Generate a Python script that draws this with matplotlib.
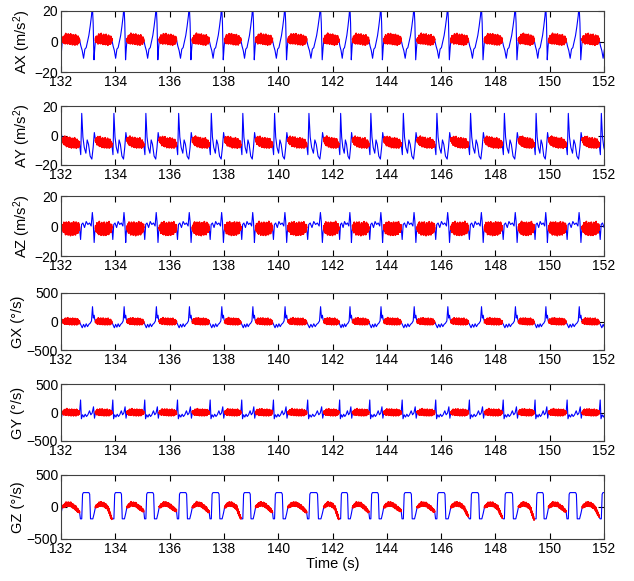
import numpy as np
import matplotlib.pyplot as plt

plt.rcParams['font.family'] = ['Liberation Sans', 'DejaVu Sans']
plt.rcParams['mathtext.default'] = 'regular'

# stride onsets (start of each red stance segment)
onsets = [130.85, 132.05, 133.27, 134.43, 135.62, 136.84, 138.03, 139.17, 140.36,
          141.68, 142.74, 143.89, 145.12, 146.36, 147.6, 148.85, 149.96, 151.2, 152.4]
stance_frac = 0.52

# jitter pattern of the red stance segments (normalised)
noise = [0.8, -0.4, 0.2, -0.95, 0.35, -0.15, 1.0, -0.45, 0.1, -0.6, 0.7, -0.3,
         0.35, -0.75, 0.5, -0.55, 0.25, -0.05, 0.6, -1.0, 0.45, -0.25, 0.15, -0.65,
         0.9, -0.2, 0.05, -0.8, 0.3, -0.5, 0.65, -0.1, 0.2, -0.9, 0.4, -0.35]
# envelope of the jitter along a stance segment
env_phase = [0.0, 0.08, 0.2, 0.8, 0.92, 1.0]
env_vals = [0.35, 0.8, 1.0, 1.0, 0.8, 0.4]

# swing (blue) key points: phase within a stride and value
ax_phase = [0.52, 0.56, 0.60, 0.64, 0.68, 0.72, 0.76, 0.80, 0.84, 0.88, 0.905, 0.93, 0.955, 0.98, 1.0]
ax_vals = [1, -3, -6, -11, -5, -4, 0, 4, 10, 17, 24, 12, -12, -4, 1]
ay_phase = [0.52, 0.555, 0.585, 0.62, 0.66, 0.71, 0.75, 0.79, 0.84, 0.89, 0.93, 0.965, 1.0]
ay_vals = [-6, -13, 15, -1, -8, -12, -3, -6, -14, -16, -8, 2, -3]
az_phase = [0.52, 0.55, 0.58, 0.62, 0.67, 0.72, 0.77, 0.82, 0.87, 0.905, 0.93, 0.96, 0.98, 1.0]
az_vals = [-1, -9, 1, 2, -1, 3, 1, 2, 0, 9, 3, -11, -4, -1]
gx_phase = [0.52, 0.56, 0.60, 0.64, 0.68, 0.72, 0.76, 0.80, 0.84, 0.88, 0.91, 0.935, 0.96, 0.98, 1.0]
gx_vals = [-10, -60, -110, -50, -100, -40, -90, -50, -30, 10, 260, 60, 110, 30, 0]
gy_phase = [0.52, 0.55, 0.575, 0.61, 0.65, 0.69, 0.73, 0.77, 0.82, 0.86, 0.90, 0.94, 0.97, 1.0]
gy_vals = [0, 220, -110, -40, -80, -30, -70, -40, 30, -40, -10, 100, -100, 0]
gz_phase = [0.52, 0.545, 0.585, 0.61, 0.635, 0.80, 0.825, 0.85, 0.92, 0.96, 1.0]
gz_vals = [-80, -185, -185, 200, 225, 225, 200, -185, -185, -100, 0]

# stance (red) base shape, phase within stance
red_phase = [0.0, 0.25, 0.5, 0.75, 1.0]
ax_red = [1, 2, 1.5, 1, 1]
ay_red = [-3, -4, -5, -5, -6]
az_red = [-1, -1.5, -2, -1.5, -1]
gx_red = [0, 10, 0, 0, -10]
gy_red = [0, 10, 0, 0, 0]
gz_red = [0, 50, 40, -10, -80]
# how far GZ falls at the end of each stance
gz_depth = [-80, -80, -190, -60, -60, -80, -180, -80, -80, -190, -80, -60, -70,
            -150, -160, -200, -70, -150]

channels = [
    ('AX (m/s$^{2}$)', ax_phase, ax_vals, ax_red, 3.5, 20, None),
    ('AY (m/s$^{2}$)', ay_phase, ay_vals, ay_red, 3.5, 20, None),
    ('AZ (m/s$^{2}$)', az_phase, az_vals, az_red, 4.5, 20, None),
    ('GX (°/s)', gx_phase, gx_vals, gx_red, 60, 500, None),
    ('GY (°/s)', gy_phase, gy_vals, gy_red, 60, 500, None),
    ('GZ (°/s)', gz_phase, gz_vals, gz_red, 35, 500, gz_depth),
]


def stride_curves(phase, vals, red_vals, amp, depth=None, shift=0):
    bt, by = [], []
    rt, ry = [], []
    k = shift
    for i in range(len(onsets) - 1):
        t0, t1 = onsets[i], onsets[i + 1]
        T = t1 - t0
        Ts = stance_frac * T
        v = list(vals)
        rv = list(red_vals)
        if depth is not None:
            rv[-1] = depth[i]
            v[0] = depth[i]
        # blue under the stance follows the red base, then the swing points
        bt += [t0 + p * Ts for p in red_phase[:-1]]
        by += rv[:-1]
        bt += [t0 + p * T for p in phase]
        by += v
        ts = np.arange(t0, t0 + Ts, 0.005)
        u = (ts - t0) / Ts
        base = np.interp(u, red_phase, rv)
        env = np.interp(u, env_phase, env_vals)
        jit = np.array([noise[(k + j) % len(noise)] for j in range(len(ts))])
        k += len(ts)
        rt += list(ts) + [np.nan]
        ry += list(base + amp * env * jit) + [np.nan]
    return bt, by, rt, ry


fig = plt.figure(figsize=(6.34, 5.81), dpi=100)
H = 581.0
boxes = [(11, 72), (106, 165), (196, 256), (293, 350), (384, 441), (475, 539)]

for n, (name, ph, vals, rv, amp, lim, depth) in enumerate(channels):
    top, bot = boxes[n]
    ax = fig.add_axes([61 / 634, 1 - bot / H, 543 / 634, (bot - top) / H])
    bt, by, rt, ry = stride_curves(ph, vals, rv, amp, depth, shift=n * 7)
    ax.plot(bt, by, color='#0000ff', lw=0.8)
    ax.plot(rt, ry, color='#ff0000', lw=1.2)
    ax.set_xlim(132, 152)
    ax.set_ylim(-lim, lim)
    ax.set_xticks(np.arange(132, 153, 2))
    ax.set_yticks([-lim, 0, lim])
    ax.tick_params(direction='in', top=True, right=True, length=4, width=0.8,
                   labelsize=10, pad=2)
    for s in ax.spines.values():
        s.set_color('#404040')
        s.set_linewidth(0.8)
    ax.set_ylabel(name, fontsize=10.5, labelpad=1)
    if n == 5:
        ax.set_xlabel('Time (s)', fontsize=10.5, labelpad=1)

fig.savefig('out.png', dpi=100)
